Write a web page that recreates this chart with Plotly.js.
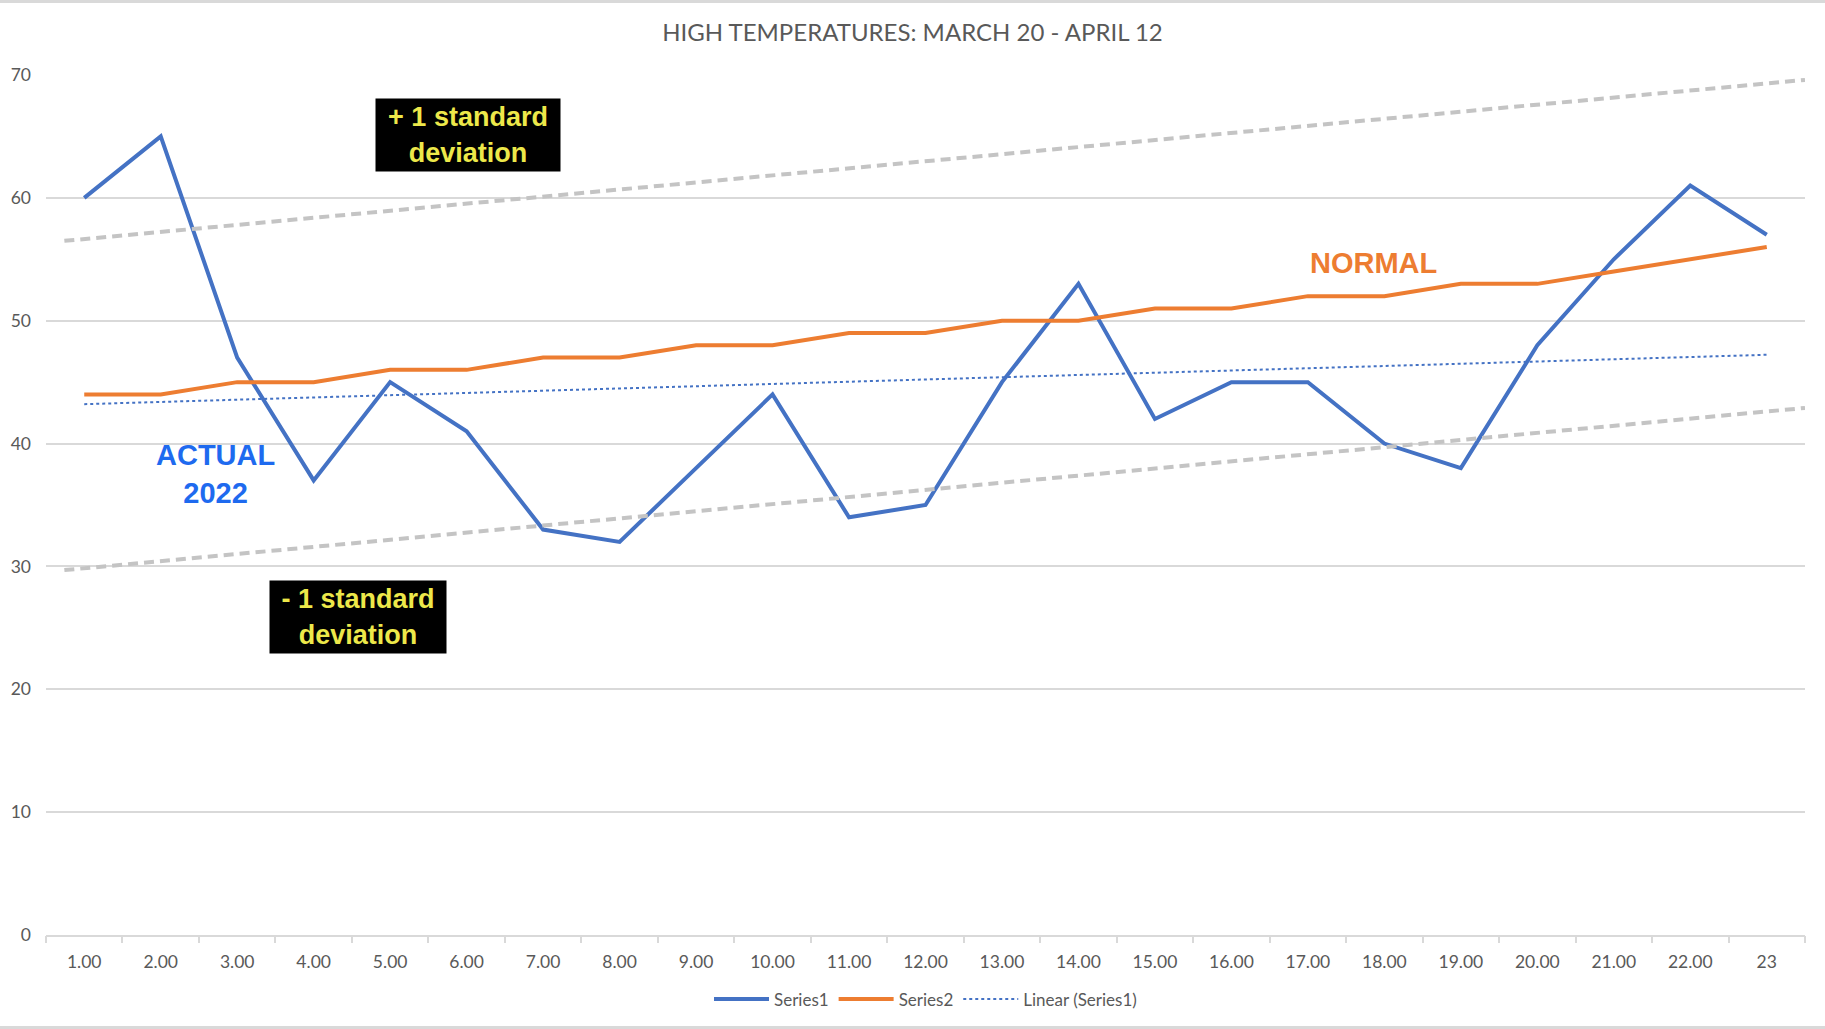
<!DOCTYPE html>
<html>
<head>
<meta charset="utf-8">
<script src="https://cdn.plot.ly/plotly-3.0.1.min.js"></script>
<style>
  body { margin: 0; background: #fff; }
  #wrap { position: relative; width: 1825px; height: 1029px; }
  #chart { width: 1825px; height: 1029px; }
  #frame { position: absolute; left: 0; top: 0; right: 0; bottom: 0;
           border-top: 3px solid #d9d9d9; border-bottom: 3px solid #d9d9d9;
           pointer-events: none; box-sizing: border-box; }
</style>
</head>
<body>
<div id="wrap">
  <div id="chart"></div>
  <div id="frame"></div>
</div>
<script>
/* High temperatures, March 20 - April 12 */

const days = [1, 2, 3, 4, 5, 6, 7, 8, 9, 10, 11, 12, 13, 14, 15, 16, 17, 18, 19, 20, 21, 22, 23];
const dayLabels = ['1.00', '2.00', '3.00', '4.00', '5.00', '6.00', '7.00', '8.00', '9.00', '10.00',
    '11.00', '12.00', '13.00', '14.00', '15.00', '16.00', '17.00', '18.00', '19.00', '20.00',
    '21.00', '22.00', '23'];
const actual2022 = [60, 65, 47, 37, 45, 41, 33, 32, 38, 44, 34, 35, 45, 53, 42, 45, 45, 40, 38, 48, 55, 61, 57];
const normalHigh = [44, 44, 45, 45, 46, 46, 47, 47, 48, 48, 49, 49, 50, 50, 51, 51, 52, 52, 53, 53, 54, 55, 56];

// hand-drawn +/- 1 standard deviation guide lines (end points)
const bandX = [0.74, 23.5];
const upperBand = [56.5, 69.6];
const lowerBand = [29.7, 42.9];

// least-squares trendline of Series1
function linearFit(xs, ys) {
    const n = xs.length;
    const mx = xs.reduce((a, b) => a + b, 0) / n;
    const my = ys.reduce((a, b) => a + b, 0) / n;
    let sxy = 0, sxx = 0;
    xs.forEach((x, i) => { sxy += (x - mx) * (ys[i] - my); sxx += (x - mx) * (x - mx); });
    const slope = sxy / sxx;
    return xs.map(x => my + slope * (x - mx));
}
const trend = linearFit(days, actual2022);

const FONT = 'Lato, "Open Sans", sans-serif';
const GRID = '#d9d9d9';
const TEXT = '#595959';

const traces = [
    {
        x: bandX, y: upperBand, xaxis: 'x2', type: 'scatter', mode: 'lines',
        line: { color: '#c4c4c4', width: 4, dash: '10px,6px' },
        showlegend: false, hoverinfo: 'skip',
    },
    {
        x: bandX, y: lowerBand, xaxis: 'x2', type: 'scatter', mode: 'lines',
        line: { color: '#c4c4c4', width: 4, dash: '10px,6px' },
        showlegend: false, hoverinfo: 'skip',
    },
    {
        x: days, y: actual2022, type: 'scatter', mode: 'lines', name: 'Series1',
        line: { color: '#4472C4', width: 4 },
    },
    {
        x: days, y: normalHigh, type: 'scatter', mode: 'lines', name: 'Series2',
        line: { color: '#ED7D31', width: 4 },
    },
    {
        x: days, y: trend, type: 'scatter', mode: 'lines', name: 'Linear (Series1)',
        line: { color: '#4472C4', width: 2, dash: 'dot' },
    },
];

const boxFont = { family: 'Arial, "Liberation Sans", sans-serif', size: 27, color: '#EDE84A', weight: 'bold' };

const layout = {
    width: 1825,
    height: 1029,
    paper_bgcolor: '#fff',
    plot_bgcolor: '#fff',
    margin: { l: 46, r: 20, t: 75, b: 94 },
    font: { family: FONT, color: TEXT, size: 17 },
    title: {
        text: 'HIGH TEMPERATURES: MARCH 20 - APRIL 12',
        font: { family: FONT, size: 24, color: TEXT },
        x: 0.5, xanchor: 'center', y: 0.968, yanchor: 'middle',
    },
    xaxis: {
        range: [0.5, 23.5],
        tickvals: days,
        ticktext: dayLabels,
        ticks: '',
        showgrid: false,
        zeroline: false,
        showline: true,
        linecolor: GRID,
        linewidth: 2,
        ticklabelstandoff: 10,
        tickfont: { family: FONT, size: 17.5, color: TEXT },
        fixedrange: true,
    },
    xaxis2: {
        overlaying: 'x',
        side: 'bottom',
        range: [0.5, 23.5],
        tickmode: 'linear',
        tick0: 0.5,
        dtick: 1,
        ticks: 'outside',
        ticklen: 7,
        tickwidth: 2,
        tickcolor: GRID,
        showticklabels: false,
        showgrid: false,
        zeroline: false,
        showline: false,
    },
    yaxis: {
        range: [0, 70],
        tickvals: [0, 10, 20, 30, 40, 50, 60, 70],
        showgrid: true,
        gridcolor: GRID,
        gridwidth: 2,
        zeroline: false,
        showline: false,
        ticks: '',
        ticklabelstandoff: 14,
        tickfont: { family: FONT, size: 17.5, color: TEXT },
    },
    legend: {
        orientation: 'h',
        x: 0.5, xanchor: 'center',
        y: -0.075, yanchor: 'middle',
        font: { family: FONT, size: 17, color: TEXT },
        itemwidth: 55,
    },
    annotations: [
        {
            x: 6.02, y: 65.1, xref: 'x', yref: 'y',
            text: '+ 1 standard<br>deviation', showarrow: false,
            font: boxFont, bgcolor: '#000', width: 176, height: 64, borderpad: 4,
        },
        {
            x: 4.58, y: 25.9, xref: 'x', yref: 'y',
            text: '- 1 standard<br>deviation', showarrow: false,
            font: boxFont, bgcolor: '#000', width: 168, height: 64, borderpad: 4,
        },
        {
            x: 2.72, y: 37.5, xref: 'x', yref: 'y',
            text: 'ACTUAL<br>2022', showarrow: false,
            font: { family: 'Arial, "Liberation Sans", sans-serif', size: 29, color: '#1E6AEF', weight: 'bold' },
        },
        {
            x: 17.86, y: 54.7, xref: 'x', yref: 'y',
            text: 'NORMAL', showarrow: false,
            font: { family: 'Arial, "Liberation Sans", sans-serif', size: 29, color: '#ED7D31', weight: 'bold' },
        },
    ],
};

Plotly.newPlot('chart', traces, layout, { displayModeBar: false, staticPlot: true });
</script>
</body>
</html>
